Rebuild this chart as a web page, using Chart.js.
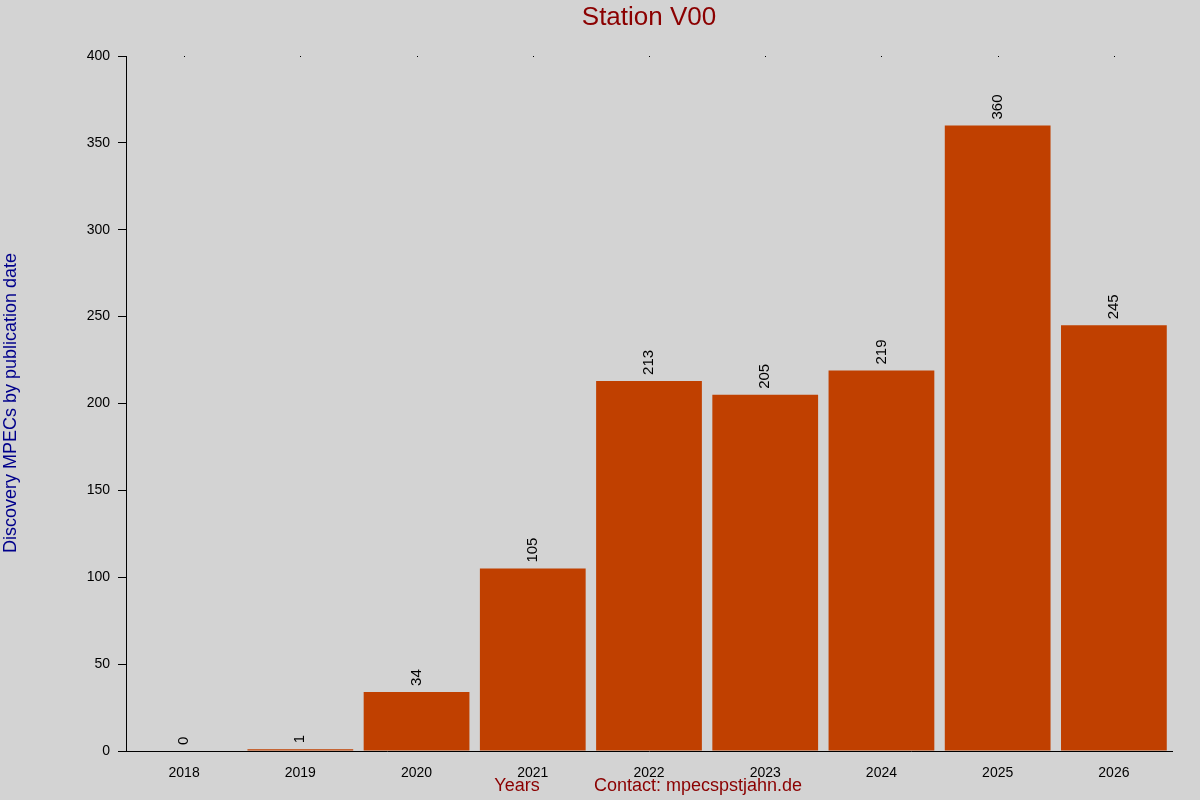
<!DOCTYPE html>
<html>
<head>
<meta charset="utf-8">
<script src="https://cdn.jsdelivr.net/npm/chart.js@4/dist/chart.umd.min.js"></script>
<style>
  html, body { margin: 0; padding: 0; background: #d3d3d3; }
</style>
</head>
<body>
<canvas id="chart" width="1200" height="800"></canvas>
<script>
const years = ["2018", "2019", "2020", "2021", "2022", "2023", "2024", "2025", "2026"];
const discoveries = [0, 1, 34, 105, 213, 205, 219, 360, 245];
const yTicks = [0, 50, 100, 150, 200, 250, 300, 350, 400];

const FONT = "'Liberation Sans', Arial, sans-serif";
const BAR_COLOR = "#c04000";
const TITLE_COLOR = "#8b0000";
const YTITLE_COLOR = "#00008b";

/* ---------- Extra text: title, axis titles, value labels ---------- */
const decorations = {
  id: "decorations",
  afterDatasetsDraw(chart) {
    const { ctx, chartArea, scales } = chart;
    ctx.save();
    ctx.fillStyle = TITLE_COLOR;
    ctx.font = "26px " + FONT;
    ctx.textAlign = "center";
    ctx.textBaseline = "middle";
    ctx.fillText("Station V00", 649, 18);

    ctx.font = "18px " + FONT;
    ctx.fillText("Years", 517, 786);
    ctx.fillText("Contact: mpecspstjahn.de", 698, 786);

    ctx.save();
    ctx.translate(11, 403);
    ctx.rotate(-Math.PI / 2);
    ctx.fillStyle = YTITLE_COLOR;
    ctx.fillText("Discovery MPECs by publication date", 0, 0);
    ctx.restore();

    /* small dots on the top edge */
    ctx.fillStyle = "#000";
    years.forEach((_, i) => {
      ctx.fillRect(Math.round(scales.x.getPixelForValue(i)), chartArea.top, 1, 1);
    });

    /* rotated value labels */
    const meta = chart.getDatasetMeta(0);
    ctx.fillStyle = "#000";
    ctx.font = "15px " + FONT;
    ctx.textAlign = "left";
    meta.data.forEach((bar, i) => {
      ctx.save();
      ctx.translate(bar.x, bar.y - 6);
      ctx.rotate(-Math.PI / 2);
      ctx.fillText(String(discoveries[i]), 0, 0);
      ctx.restore();
    });
    ctx.restore();
  }
};

new Chart(document.getElementById("chart"), {
  type: "bar",
  data: {
    labels: years,
    datasets: [{
      data: discoveries,
      backgroundColor: BAR_COLOR,
      barPercentage: 0.91,
      categoryPercentage: 1.0
    }]
  },
  options: {
    responsive: false,
    animation: false,
    events: [],
    layout: { padding: { top: 56, right: 28, left: 0, bottom: 0 } },
    plugins: { legend: { display: false }, tooltip: { enabled: false } },
    scales: {
      x: {
        afterFit(scale) { scale.height = 49; },
        grid: { display: false },
        border: { display: true, color: "#000", width: 1 },
        ticks: { color: "#000", font: { family: FONT, size: 14 }, padding: 6 }
      },
      y: {
        min: 0,
        max: 400,
        afterFit(scale) { scale.width = 126; },
        afterBuildTicks(scale) { scale.ticks = yTicks.map((v) => ({ value: v })); },
        grid: { drawOnChartArea: false, tickLength: 8, color: "#000" },
        border: { display: true, color: "#000", width: 1 },
        ticks: { color: "#000", font: { family: FONT, size: 14 }, padding: 8 }
      }
    }
  },
  plugins: [decorations]
});
</script>
</body>
</html>
